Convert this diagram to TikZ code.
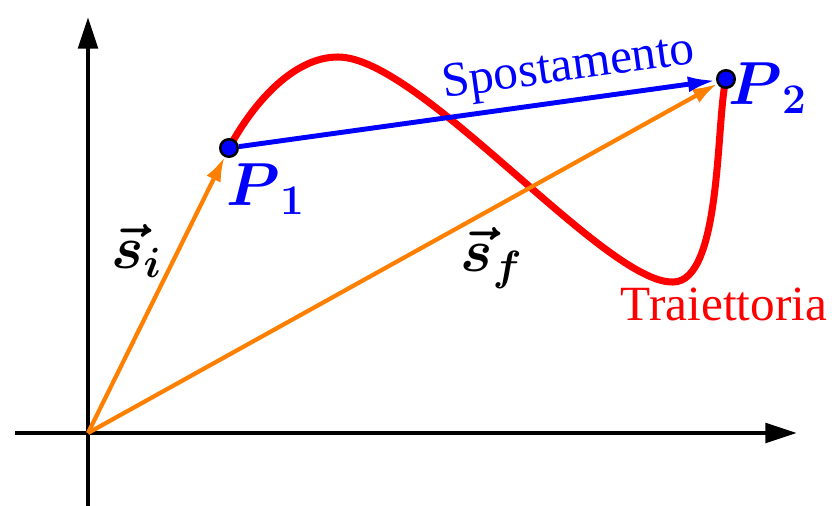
\documentclass[tikz,border=0pt]{standalone}
\usepackage{amsmath,amssymb}
\usepackage{fontspec}
\setmainfont{Liberation Serif}
\usepackage{tikz}
\usetikzlibrary{arrows.meta, positioning, backgrounds}
\definecolor{vecorange}{RGB}{255,128,0}

\begin{document}
\begin{tikzpicture}[x=0.01cm, y=-0.01cm,
    axis/.style={line width=1.3pt, -{Triangle[length=9pt, width=5.5pt]}},
    posvec/.style={vecorange, line width=1.2pt, -{Latex[length=7pt, width=4.5pt]}},
    spost/.style={blue, line width=1.4pt, -{Latex[length=8pt, width=4.5pt]}},
    traj/.style={red, line width=2pt},
    ptdot/.style={circle, draw=black, fill=blue, line width=0.7pt, inner sep=0pt, minimum size=5pt},
    ptlbl/.style={text=blue, font=\fontsize{18}{20}\selectfont},
    veclbl/.style={font=\fontsize{18}{20}\selectfont},
    txt/.style={font=\fontsize{14}{16}\selectfont}]
    \useasboundingbox (0,0) rectangle (832,506);
    % points
    \coordinate (O) at (88,433);
    \node[ptdot] (P1) at (229,148) {};
    \node[ptdot] (P2) at (726,79) {};
    \node[ptlbl] (lblA) at (266,189) {$\boldsymbol{P}_{\boldsymbol{1}}$};
    \node[ptlbl] (lblB) at (768,88) {$\boldsymbol{P}_{\boldsymbol{2}}$};
    \node[veclbl] (si) at (137,251) {$\boldsymbol{\vec{s}}_{\boldsymbol{i}}$};
    \node[veclbl] (sf) at (492,258) {$\boldsymbol{\vec{s}}_{\boldsymbol{f}}$};
    \node[txt, text=red] (trajlbl) at (724,304) {Traiettoria};
    \begin{scope}[on background layer]
      % axes
      \coordinate (xl) at (15,433);
      \coordinate (xr) at (797,433);
      \coordinate (yb) at (88,506);
      \coordinate (yt) at (88,17);
      \draw[axis] (xl) -- (xr);
      \draw[axis] (yb) -- (yt);
      % trajectory
      \draw[traj] (P1.center) .. controls (255,100) and (295,57) .. (338,57)
        .. controls (420,57) and (605,284) .. (673,282)
        .. controls (722,282) and (716,120) .. (P2.center);
      % vectors
      \draw[posvec] (O) -- (P1);
      \draw[posvec] (O) -- (P2);
      \draw[spost] (P1) -- (P2) node[pos=0.7, above, sloped, txt, inner sep=2pt] {Spostamento};
    \end{scope}
\end{tikzpicture}
\end{document}
